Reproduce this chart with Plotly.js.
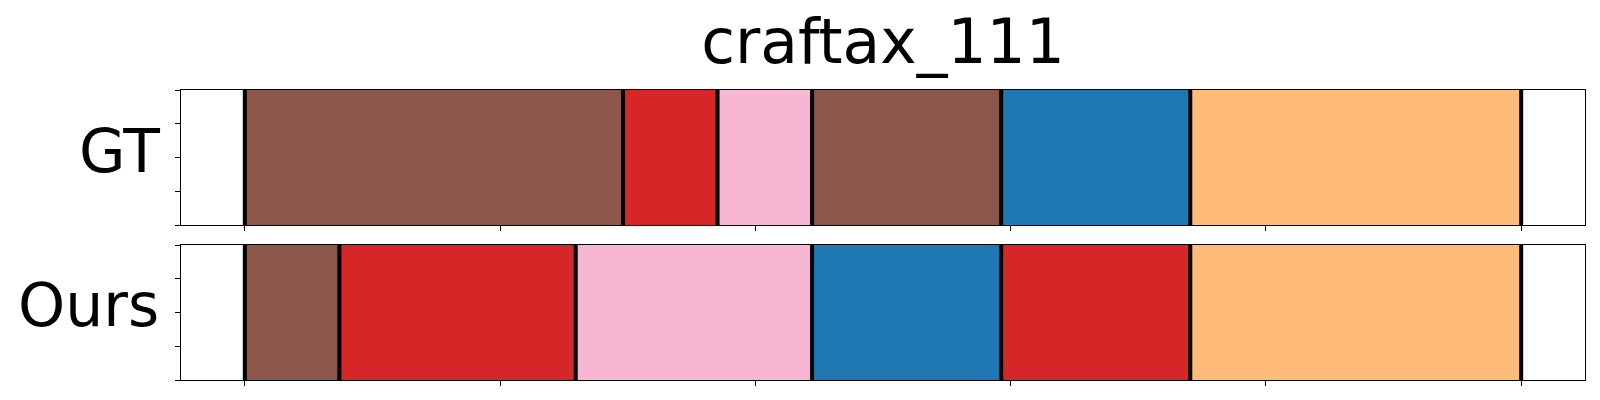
<!DOCTYPE html>
<html>
<head>
<meta charset="utf-8">
<script src="https://cdn.plot.ly/plotly-3.0.1.min.js"></script>
<style>html,body{margin:0;padding:0;background:#fff;}#chart{width:1600px;height:400px;}</style>
</head>
<body>
<div id="chart"></div>
<script>
// ---- data ----
const chartTitle = 'craftax_111';
const rowLabels = ['GT', 'Ours'];
const totalSteps = 27;
const gtBounds = [0, 8, 10, 12, 16, 20, 27];
const gtClasses = ['brown', 'red', 'pink', 'brown', 'blue', 'orange'];
const oursBounds = [0, 2, 7, 12, 16, 20, 27];
const oursClasses = ['brown', 'red', 'pink', 'blue', 'red', 'orange'];
const classColors = {brown: '#8c564b', red: '#d62728', pink: '#f7b6d2', blue: '#1f77b4', orange: '#ffbb78'};

const FONT = 'DejaVu Sans, sans-serif';

function segTraces(bounds, classes, xa, ya) {
  const traces = [];
  for (let i = 0; i < classes.length; i++) {
    traces.push({
      type: 'bar', orientation: 'h',
      x: [bounds[i + 1] - bounds[i]], base: [bounds[i]], y: [0.5], width: [1],
      marker: {color: classColors[classes[i]], line: {width: 0}},
      xaxis: xa, yaxis: ya, showlegend: false, hoverinfo: 'skip'
    });
  }
  const lx = [], ly = [];
  bounds.forEach(b => { lx.push(b, b, null); ly.push(0, 1, null); });
  traces.push({
    type: 'scatter', mode: 'lines', x: lx, y: ly,
    line: {color: '#000', width: 4}, xaxis: xa, yaxis: ya,
    showlegend: false, hoverinfo: 'skip', cliponaxis: true
  });
  return traces;
}

const data = [].concat(segTraces(gtBounds, gtClasses, 'x', 'y'),
                       segTraces(oursBounds, oursClasses, 'x2', 'y2'));

const pad = 0.05 * totalSteps;
const tickv = [];
for (let k = 0; k <= 5; k++) tickv.push(totalSteps * k / 5);

const xax = (anchor) => ({
  range: [-pad, totalSteps + pad], domain: [0, 1], anchor: anchor,
  showgrid: false, zeroline: false, showline: true, linecolor: '#000', linewidth: 1, mirror: true,
  ticks: 'outside', ticklen: 5, tickwidth: 1, tickcolor: '#000',
  tickmode: 'array', tickvals: tickv, showticklabels: false, fixedrange: true
});
const yax = (dom, anchor) => ({
  range: [0, 1], domain: dom, anchor: anchor,
  showgrid: false, zeroline: false, showline: true, linecolor: '#000', linewidth: 1, mirror: true,
  ticks: 'outside', ticklen: 5, tickwidth: 1, tickcolor: '#000',
  tickmode: 'array', tickvals: [0, 0.25, 0.5, 0.75, 1], showticklabels: false, fixedrange: true
});

const layout = {
  width: 1600, height: 400,
  margin: {l: 181, r: 15, t: 0, b: 0},
  paper_bgcolor: '#fff', plot_bgcolor: '#fff',
  barmode: 'overlay', bargap: 0,
  font: {family: FONT, color: '#000'},
  title: {text: chartTitle, font: {family: FONT, size: 61.5, color: '#000'},
          xref: 'paper', x: 0.5, xanchor: 'center', yref: 'container', y: 1 - 41 / 400, yanchor: 'middle'},
  xaxis: xax('y'),
  yaxis: yax([1 - 225 / 400, 1 - 90 / 400], 'x'),
  xaxis2: xax('y2'),
  yaxis2: yax([1 - 380 / 400, 1 - 245 / 400], 'x2'),
  annotations: [
    {text: rowLabels[0], xref: 'paper', yref: 'paper', x: -19 / 1404, xanchor: 'right',
     y: 1 - 151 / 400, yanchor: 'middle', showarrow: false, font: {family: FONT, size: 60, color: '#000'}},
    {text: rowLabels[1], xref: 'paper', yref: 'paper', x: -20 / 1404, xanchor: 'right',
     y: 1 - 305 / 400, yanchor: 'middle', showarrow: false, font: {family: FONT, size: 60, color: '#000'}}
  ]
};

Plotly.newPlot('chart', data, layout, {staticPlot: true, displayModeBar: false});
</script>
</body>
</html>
